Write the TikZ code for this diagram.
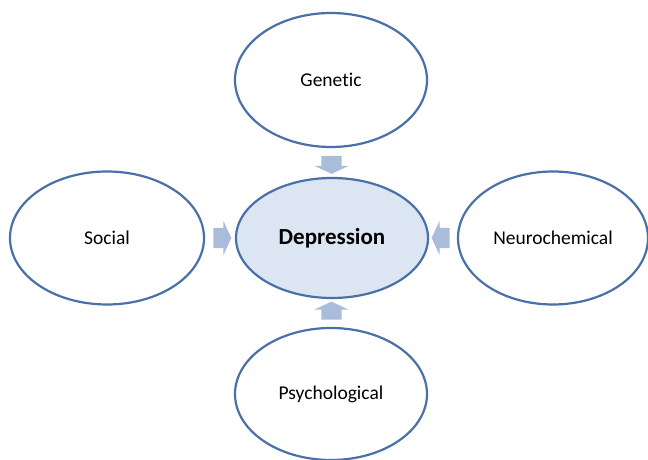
\documentclass[tikz,border=0pt]{standalone}
\usepackage{fontspec}
\setmainfont[Ligatures=NoCommon]{Carlito}
\usetikzlibrary{shapes.geometric,shapes.arrows}
\definecolor{edgeblue}{HTML}{4A70A8}
\definecolor{depfill}{HTML}{DCE6F2}
\definecolor{arrowc}{HTML}{A9BDDB}
\begin{document}
\begin{tikzpicture}[x=1pt,y=1pt,
  factor/.style={ellipse, draw=edgeblue, line width=2.2pt, fill=white, font=\fontsize{19.5}{23}\selectfont, inner sep=0pt},
  central/.style={factor, fill=depfill, font=\fontsize{23}{27}\selectfont\bfseries},
  blockarrow/.style={single arrow, fill=arrowc, draw=none, inner xsep=0pt, inner ysep=10pt, minimum width=34pt, minimum height=18pt, single arrow head extend=7pt, single arrow tip angle=130}]
\useasboundingbox (0,0) rectangle (648,460);
\node[central, minimum width=192pt, minimum height=120pt] (dep) at (332,222) {Depression};
\node[factor, minimum width=192pt, minimum height=134pt] (gen) at (331,380) {Genetic};
\node[factor, minimum width=194pt, minimum height=133pt] (soc) at (107,222) {Social};
\node[factor, minimum width=190pt, minimum height=133pt] (neu) at (553,222) {Neurochemical};
\node[factor, minimum width=192pt, minimum height=132pt] (psy) at (331,66) {Psychological};
\path (gen.south) -- (dep.north) node[midway, blockarrow, rotate=270] (a1) {};
\path (psy.north) -- (dep.south) node[midway, blockarrow, rotate=90] (a2) {};
\path (soc.east) -- (dep.west) node[midway, blockarrow] (a3) {};
\path (neu.west) -- (dep.east) node[midway, blockarrow, rotate=180] (a4) {};
\end{tikzpicture}
\end{document}
